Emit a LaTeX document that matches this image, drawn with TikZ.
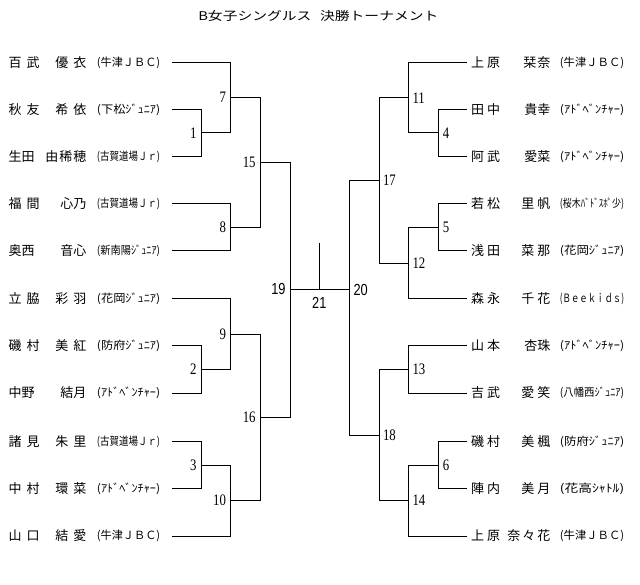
\documentclass[tikz,border=0pt]{standalone}
\usepackage{fontspec}
\newfontfamily\jp{Noto Sans CJK JP}
\newfontfamily\serf{Liberation Serif}
\newfontfamily\sanf{Liberation Sans}
\newcommand\ggap{\hspace{5pt}}
\newcommand\rgap{\hspace{3pt}}
\newcommand\clubtxt[2]{\resizebox*{#1}{11.7pt}{\jp #2}}
\newcommand\numS[1]{\scalebox{0.8}[1]{\serf\fontsize{16pt}{16pt}\selectfont #1}}
\newcommand\numG[1]{\scalebox{0.8}[1]{\sanf\fontsize{16pt}{16pt}\selectfont #1}}
\tikzset{
  nm/.style={inner sep=0pt, font=\jp\fontsize{13pt}{13pt}\selectfont},
  clubnode/.style={inner sep=0pt, anchor=west},
  br/.style={line width=1pt, black},
  lblL/.style={inner sep=0pt, anchor=east},
  lblR/.style={inner sep=0pt, anchor=west},
}
\newcommand\leftplayer[5]{%
  \coordinate (p#1) at (172.3,#2);
  \node[nm,anchor=west] (fa#1) at (8.5,#2) {#3};
  \node[nm,anchor=east] (gi#1) at (86.5,#2) {#4};
  \node[clubnode] (cl#1) at (96.7,#2) {\clubtxt{63.3pt}{#5}};
}
\newcommand\rightplayer[5]{%
  \coordinate (q#1) at (466.7,#2);
  \node[nm,anchor=west] (rfa#1) at (471,#2) {#3};
  \node[nm,anchor=east] (rgi#1) at (550.5,#2) {#4};
  \node[clubnode] (rcl#1) at (559.7,#2) {\clubtxt{64.3pt}{#5}};
}
\begin{document}
\begin{tikzpicture}[x=1pt,y=-1pt]
\useasboundingbox[fill=white] (0,0) rectangle (640,585);
% title
\node[inner sep=0pt] (title) at (318.3,15.5) {\resizebox{240pt}{\height}{\jp\fontsize{12pt}{12pt}\selectfont B女子シングルス\hspace{0.6em}決勝トーナメント}};
% left players
\leftplayer{1}{62.5}{百\ggap 武}{優\ggap 衣}{(牛津ＪＢＣ)}
\leftplayer{2}{109.5}{秋\ggap 友}{希\ggap 依}{(下松ｼﾞｭﾆｱ)}
\leftplayer{3}{156.5}{生田}{由\hspace{1pt}稀\hspace{1pt}穂}{(古賀道場Ｊｒ)}
\leftplayer{4}{204}{福\ggap 間}{心乃}{(古賀道場Ｊｒ)}
\leftplayer{5}{250.5}{奥西}{音心}{(新南陽ｼﾞｭﾆｱ)}
\leftplayer{6}{299}{立\ggap 脇}{彩\ggap 羽}{(花岡ｼﾞｭﾆｱ)}
\leftplayer{7}{346}{磯\ggap 村}{美\ggap 紅}{(防府ｼﾞｭﾆｱ)}
\leftplayer{8}{393}{中野}{結月}{(ｱﾄﾞﾍﾞﾝﾁｬｰ)}
\leftplayer{9}{441.5}{諸\ggap 見}{朱\ggap 里}{(古賀道場Ｊｒ)}
\leftplayer{10}{488.5}{中\ggap 村}{環\ggap 菜}{(ｱﾄﾞﾍﾞﾝﾁｬｰ)}
\leftplayer{11}{536}{山\ggap 口}{結\ggap 愛}{(牛津ＪＢＣ)}
% right players
\rightplayer{1}{62.5}{上\rgap 原}{栞\hspace{1pt}奈}{(牛津ＪＢＣ)}
\rightplayer{2}{109.5}{田\rgap 中}{貴幸}{(ｱﾄﾞﾍﾞﾝﾁｬｰ)}
\rightplayer{3}{156.5}{阿\rgap 武}{愛菜}{(ｱﾄﾞﾍﾞﾝﾁｬｰ)}
\rightplayer{4}{204}{若\rgap 松}{里\rgap 帆}{(桜木ﾊﾞﾄﾞｽﾎﾟ少)}
\rightplayer{5}{250.5}{浅\rgap 田}{菜\rgap 那}{(花岡ｼﾞｭﾆｱ)}
\rightplayer{6}{299}{森\rgap 永}{千\rgap 花}{(Ｂｅｅｋｉｄｓ)}
\rightplayer{7}{346}{山\rgap 本}{杏珠}{(ｱﾄﾞﾍﾞﾝﾁｬｰ)}
\rightplayer{8}{393}{吉\rgap 武}{愛\rgap 笑}{(八幡西ｼﾞｭﾆｱ)}
\rightplayer{9}{441.5}{磯\rgap 村}{美\rgap 楓}{(防府ｼﾞｭﾆｱ)}
\rightplayer{10}{488.5}{陣\rgap 内}{美\rgap 月}{(花高ｼｬﾄﾙ)}
\rightplayer{11}{536}{上\rgap 原}{奈\hspace{2pt}々\hspace{2pt}花}{(牛津ＪＢＣ)}
% left match points
\coordinate (m1) at (201.3,133);
\coordinate (m7) at (230.7,97.75);
\coordinate (m8) at (230.7,227.25);
\coordinate (m15) at (260.3,162.5);
\coordinate (m2) at (201.3,369.5);
\coordinate (m9) at (230.7,334.25);
\coordinate (m3) at (201.3,465);
\coordinate (m10) at (230.7,500.5);
\coordinate (m16) at (260.3,417.4);
\coordinate (m19) at (290.7,290);
% right match points
\coordinate (m4) at (438.7,133);
\coordinate (m11) at (408.3,97.75);
\coordinate (m5) at (438.7,227.25);
\coordinate (m12) at (408.3,263.1);
\coordinate (m17) at (379.3,180.4);
\coordinate (m13) at (408.3,369.5);
\coordinate (m6) at (438.7,465);
\coordinate (m14) at (408.3,500.5);
\coordinate (m18) at (379.3,435);
\coordinate (m20) at (349.3,290);
\coordinate (f21) at (319.3,290);
\coordinate (t21) at (319.3,243.3);
% brackets left
\draw[br] (p2) -| (m1) |- (p3);
\draw[br] (p1) -| (m7) |- (m1);
\draw[br] (p4) -| (m8) |- (p5);
\draw[br] (m7) -| (m15) |- (m8);
\draw[br] (p7) -| (m2) |- (p8);
\draw[br] (p6) -| (m9) |- (m2);
\draw[br] (p9) -| (m3) |- (p10);
\draw[br] (m3) -| (m10) |- (p11);
\draw[br] (m9) -| (m16) |- (m10);
\draw[br] (m15) -| (m19) |- (m16);
% brackets right
\draw[br] (q2) -| (m4) |- (q3);
\draw[br] (q1) -| (m11) |- (m4);
\draw[br] (q4) -| (m5) |- (q5);
\draw[br] (m5) -| (m12) |- (q6);
\draw[br] (m11) -| (m17) |- (m12);
\draw[br] (q7) -| (m13) |- (q8);
\draw[br] (q9) -| (m6) |- (q10);
\draw[br] (m6) -| (m14) |- (q11);
\draw[br] (m13) -| (m18) |- (m14);
\draw[br] (m17) -| (m20) |- (m18);
% final
\draw[br] (m19) -- (m20);
\draw[br] (f21) -- (t21);
% labels left
\node[lblL] (l1) at ([xshift=-4.5pt]m1) {\numS{1}};
\node[lblL] (l7) at ([xshift=-4.5pt]m7) {\numS{7}};
\node[lblL] (l8) at ([xshift=-4.5pt]m8) {\numS{8}};
\node[lblL] (l15) at ([xshift=-4.5pt]m15) {\numS{15}};
\node[lblL] (l2) at ([xshift=-4.5pt]m2) {\numS{2}};
\node[lblL] (l9) at ([xshift=-4.5pt]m9) {\numS{9}};
\node[lblL] (l3) at ([xshift=-4.5pt]m3) {\numS{3}};
\node[lblL] (l10) at ([xshift=-4.5pt]m10) {\numS{10}};
\node[lblL] (l16) at ([xshift=-4.5pt]m16) {\numS{16}};
\node[lblL] (l19) at ([xshift=-5pt,yshift=1pt]m19) {\numG{19}};
% labels right
\node[lblR] (l4) at ([xshift=4pt]m4) {\numS{4}};
\node[lblR] (l11) at ([xshift=4pt]m11) {\numS{11}};
\node[lblR] (l5) at ([xshift=4pt]m5) {\numS{5}};
\node[lblR] (l12) at ([xshift=4pt]m12) {\numS{12}};
\node[lblR] (l17) at ([xshift=3.5pt]m17) {\numS{17}};
\node[lblR] (l13) at ([xshift=4pt]m13) {\numS{13}};
\node[lblR] (l6) at ([xshift=4pt]m6) {\numS{6}};
\node[lblR] (l14) at ([xshift=4pt]m14) {\numS{14}};
\node[lblR] (l18) at ([xshift=3.5pt]m18) {\numS{18}};
\node[lblR] (l20) at ([xshift=4pt]m20) {\numG{20}};
\node[inner sep=0pt, anchor=north] (l21) at ([yshift=-7.5pt]f21) {\numG{21}};
\end{tikzpicture}
\end{document}
